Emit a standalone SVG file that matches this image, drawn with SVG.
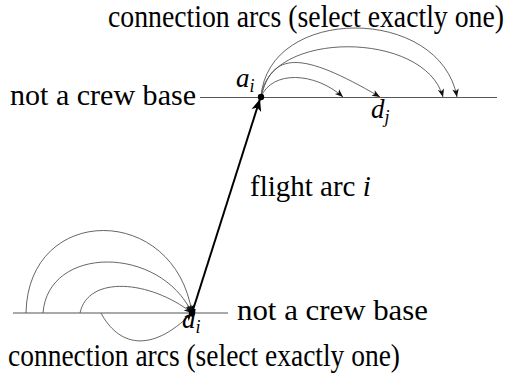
<svg xmlns="http://www.w3.org/2000/svg" width="508" height="375" viewBox="0 0 508 375">
<style>
.base{stroke:#555;stroke-width:1.1;fill:none}
.arc{stroke:#555;stroke-width:0.9;fill:none;marker-end:url(#ah)}
.flight{stroke:#000;stroke-width:2;fill:none;marker-end:url(#fh)}
</style>
<defs>
<marker id="ah" markerUnits="userSpaceOnUse" viewBox="-9 -4 10 8" markerWidth="10" markerHeight="8" refX="0" refY="0" orient="auto">
<path d="M-8,-3.2 L0,0 L-8,3.2 L-6,0 z" fill="#111"/>
</marker>
<marker id="fh" markerUnits="userSpaceOnUse" viewBox="-13 -6 14 12" markerWidth="14" markerHeight="12" refX="0" refY="0" orient="auto">
<path d="M-12,-5 L0,0 L-12,5 L-9,0 z" fill="#000"/>
</marker>
</defs>
<g id="connectors">
<line class="base" x1="200" y1="97.5" x2="497" y2="97.5"/>
<line class="base" x1="13" y1="313" x2="228" y2="313"/>
<path class="arc" d="M261,97 C272,70 315,72 343,97"/>
<path class="arc" d="M261,97 C272,52 300,50 380,97"/>
<path class="arc" d="M261,97 C268,30 425,30 443,97"/>
<path class="arc" d="M261,97 C268,5 440,5 457,97"/>
<path class="arc" d="M26,313 C28,203 175,203 192,313"/>
<path class="arc" d="M43,313 C48,245 160,245 192,313"/>
<path class="arc" d="M80,313 C88,275 150,280 192,313"/>
<path class="arc" d="M101,313 C118,345 150,355 192,313"/>
<line class="flight" x1="192" y1="313" x2="260" y2="99"/>
</g>
<g font-family="Liberation Serif" fill="#000">
<g id="node-ai">
<circle cx="261" cy="97" r="3.2" fill="#000"/>
<text x="236" y="87" font-size="27" font-style="italic">a<tspan font-size="18" dy="5">i</tspan></text>
</g>
<g id="node-di">
<circle cx="192" cy="313" r="3.2" fill="#000"/>
<text x="182" y="328" font-size="27" font-style="italic">d<tspan font-size="18" dy="5">i</tspan></text>
</g>
<g id="node-dj">
<text x="371" y="118" font-size="27" font-style="italic">d<tspan font-size="18" dy="5">j</tspan></text>
</g>
<g id="labels">
<text x="10" y="105" font-size="29" textLength="186" lengthAdjust="spacingAndGlyphs">not a crew base</text>
<text x="237" y="320" font-size="29" textLength="191" lengthAdjust="spacingAndGlyphs">not a crew base</text>
<text x="250" y="196" font-size="29">flight arc <tspan font-style="italic">i</tspan></text>
<text transform="translate(108,27) scale(1,1.15)" x="0" y="0" font-size="27" textLength="396" lengthAdjust="spacingAndGlyphs">connection arcs (select exactly one)</text>
<text transform="translate(8,366) scale(1,1.15)" x="0" y="0" font-size="27" textLength="392" lengthAdjust="spacingAndGlyphs">connection arcs (select exactly one)</text>
</g>
</g>
</svg>
